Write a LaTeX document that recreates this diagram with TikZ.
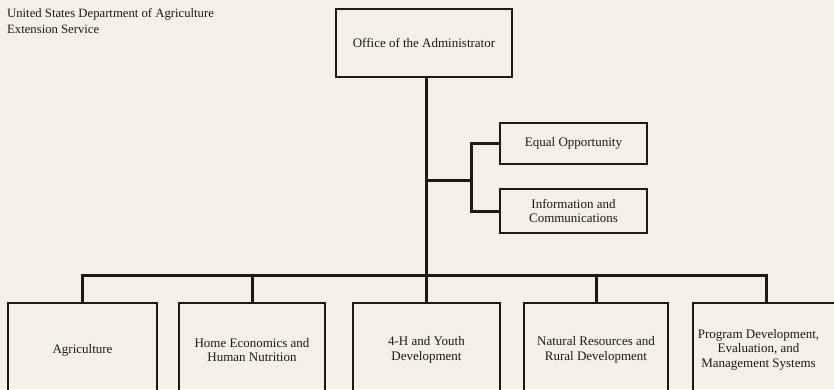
\documentclass[tikz,border=0pt]{standalone}
\usepackage{fontspec}
\setmainfont{Liberation Serif}
\definecolor{paper}{RGB}{244,240,229}
\definecolor{ink}{RGB}{28,25,22}
\begin{document}
\begin{tikzpicture}[x=1pt,y=-1pt,
  unit/.style={draw=ink, line width=2.4pt, text=ink, align=center,
    inner sep=0pt, font=\fontsize{13}{14.5}\selectfont},
  link/.style={draw=ink, line width=3pt}]
  \useasboundingbox (0,0) rectangle (834,389);
  \fill[paper] (0,0) rectangle (834,389);
  \clip (0,0) rectangle (834,389);

  % heading
  \node[anchor=north west, inner sep=0pt, text=ink, align=left,
    font=\fontsize{12.7}{16}\selectfont] (head) at (7,8)
    {United States Department of Agriculture\\Extension Service};

  % top office
  \node[unit, minimum width=176pt, minimum height=68pt] (office) at (424,43)
    {Office of the Administrator};

  % staff offices
  \node[unit, minimum width=147pt, minimum height=41pt] (eq) at (573.5,143.5)
    {Equal Opportunity};
  \node[unit, minimum width=147pt, minimum height=44pt] (info) at (573.5,211)
    {Information and\\Communications};

  % program units
  \node[unit, minimum width=149pt, minimum height=94pt] (agri) at (82.5,350)
    {Agriculture};
  \node[unit, minimum width=146pt, minimum height=94pt] (home) at (252,350)
    {Home Economics and\\Human Nutrition};
  \node[unit, minimum width=147pt, minimum height=94pt] (youth) at (426.5,350)
    {4-H and Youth\\Development};
  \node[unit, minimum width=144pt, minimum height=94pt] (nat) at (596,350)
    {Natural Resources and\\Rural Development};
  % the last box runs past the right edge; its text sits left of centre
  \node[unit, minimum width=147pt, minimum height=94pt] (prog) at (766.5,350)
    {\begin{tabular}{@{}c@{}}Program Development,\\Evaluation, and\\Management Systems\end{tabular}\hspace*{16pt}};

  \coordinate (bus) at (0,275);
  \coordinate (fork) at (471,180);

  % main trunk
  \draw[link] (youth.north |- office.south) -- (youth.north);
  % staff branch
  \draw[link] (youth.north |- fork) -- (fork);
  \draw[link] (eq.west) -| (fork) |- (info.west);
  % bus to program units
  \draw[link] (agri.north) |- (prog.north |- bus) -- (prog.north);
  \draw[link] (home.north) -- (home.north |- bus);
  \draw[link] (nat.north) -- (nat.north |- bus);
\end{tikzpicture}
\end{document}
